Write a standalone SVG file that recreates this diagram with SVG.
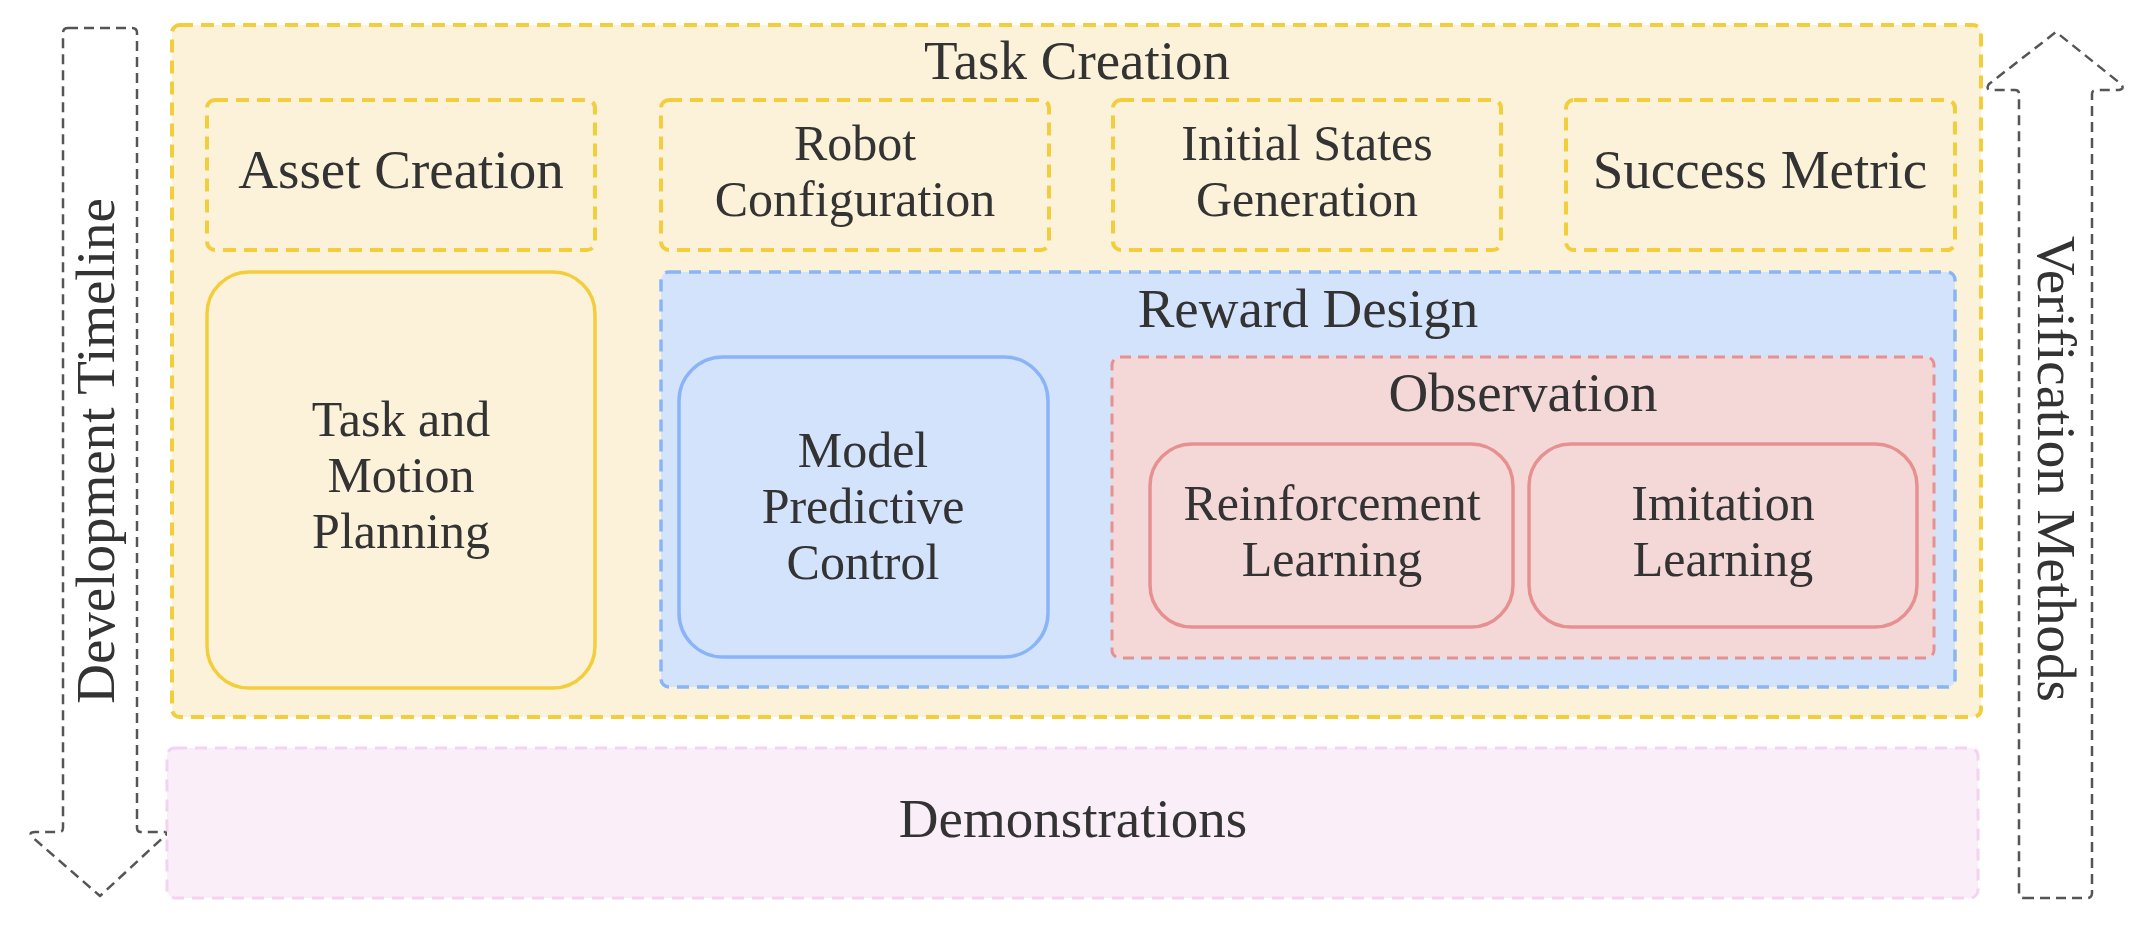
<svg xmlns="http://www.w3.org/2000/svg" width="2145" height="927" viewBox="0 0 2145 927">
<style>
text{font-family:"Liberation Serif","DejaVu Serif",serif;font-size:55px;fill:#333333;text-anchor:middle}
text.m{font-size:50px}
.yd{fill:#FCF2D9;stroke:#F2CE3C;stroke-width:4;stroke-dasharray:13 8}
.ys{fill:#FCF2D9;stroke:#F2CE3C;stroke-width:3.5}
.bd{fill:#D3E3FC;stroke:#8AB4F8;stroke-width:3.5;stroke-dasharray:12 8}
.bs{fill:#D3E3FC;stroke:#8AB4F8;stroke-width:3.5}
.rd{fill:#F4D8D8;stroke:#E69090;stroke-width:3;stroke-dasharray:11 7}
.rs{fill:#F4D8D8;stroke:#E69090;stroke-width:3.5}
.pd{fill:#FAEEF8;stroke:#F3D3F1;stroke-width:3;stroke-dasharray:12 8}
.ar{fill:#FFFFFF;stroke:#555555;stroke-width:2.5;stroke-dasharray:10 6;stroke-linejoin:round}
</style>
<rect width="2145" height="927" fill="#FFFFFF"/>
<g id="connectors">
  <path id="dev-arrow" class="ar" d="M68,28 H132 Q137,28 137,33 V828 Q137,832 141,832 H169 L100,896 L31,836 Q29,832 35,832 H59 Q63,832 63,828 V33 Q63,28 68,28 Z"/>
  <path id="ver-arrow" class="ar" d="M2024,898 H2087 Q2092,898 2092,893 V94 Q2092,90 2096,90 H2119 Q2125,89 2121,84 L2056,32 L1989,84 Q1985,90 1992,90 H2015 Q2019,90 2019,94 V893 Q2019,898 2024,898 Z"/>
</g>
<g id="dev-label"><text transform="translate(114,451) rotate(-90)">Development Timeline</text></g>
<g id="ver-label"><text transform="translate(2038,469) rotate(90)">Verification Methods</text></g>
<g id="task-creation">
  <rect class="yd" x="172" y="25" width="1809" height="692" rx="8"/>
  <text x="1077" y="79">Task Creation</text>
</g>
<g id="asset-creation">
  <rect class="yd" x="207" y="100" width="388" height="150" rx="8"/>
  <text x="401" y="188">Asset Creation</text>
</g>
<g id="robot-configuration">
  <rect class="yd" x="661" y="100" width="388" height="150" rx="8"/>
  <text class="m" x="855" y="160">Robot</text>
  <text class="m" x="855" y="216">Configuration</text>
</g>
<g id="initial-states">
  <rect class="yd" x="1113" y="100" width="388" height="150" rx="8"/>
  <text class="m" x="1307" y="160">Initial States</text>
  <text class="m" x="1307" y="216">Generation</text>
</g>
<g id="success-metric">
  <rect class="yd" x="1566" y="100" width="389" height="150" rx="8"/>
  <text x="1760" y="188">Success Metric</text>
</g>
<g id="tamp">
  <rect class="ys" x="207" y="272" width="388" height="416" rx="42"/>
  <text class="m" x="401" y="436">Task and</text>
  <text class="m" x="401" y="492">Motion</text>
  <text class="m" x="401" y="548">Planning</text>
</g>
<g id="reward-design">
  <rect class="bd" x="661" y="272" width="1294" height="415" rx="8"/>
  <text x="1308" y="327">Reward Design</text>
</g>
<g id="mpc">
  <rect class="bs" x="679" y="357" width="369" height="300" rx="44"/>
  <text class="m" x="863" y="467">Model</text>
  <text class="m" x="863" y="523">Predictive</text>
  <text class="m" x="863" y="579">Control</text>
</g>
<g id="observation">
  <rect class="rd" x="1112" y="357" width="822" height="301" rx="8"/>
  <text x="1523" y="411">Observation</text>
</g>
<g id="rl">
  <rect class="rs" x="1150" y="444" width="363" height="183" rx="42"/>
  <text class="m" x="1332" y="520">Reinforcement</text>
  <text class="m" x="1332" y="576">Learning</text>
</g>
<g id="il">
  <rect class="rs" x="1529" y="444" width="388" height="183" rx="42"/>
  <text class="m" x="1723" y="520">Imitation</text>
  <text class="m" x="1723" y="576">Learning</text>
</g>
<g id="demonstrations">
  <rect class="pd" x="167" y="748" width="1811" height="150" rx="8"/>
  <text x="1073" y="837">Demonstrations</text>
</g>
</svg>
